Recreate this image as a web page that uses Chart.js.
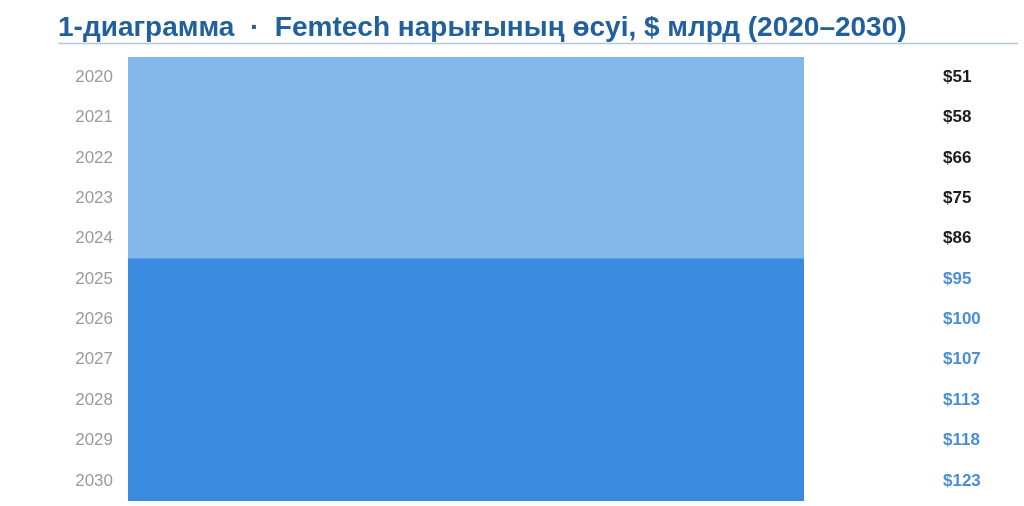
<!DOCTYPE html>
<html>
<head>
<meta charset="utf-8">
<script src="https://cdn.jsdelivr.net/npm/chart.js@4.4.1/dist/chart.umd.min.js"></script>
<style>
html,body{margin:0;padding:0;background:#fff;}
#wrap{width:1024px;height:506px;position:relative;}
</style>
</head>
<body>
<div id="wrap"><canvas id="c" width="1024" height="506"></canvas></div>
<script>
const titleText = "1-диаграмма  ·  Femtech нарығының өсуі, $ млрд (2020–2030)";
const years = ["2020","2021","2022","2023","2024","2025","2026","2027","2028","2029","2030"];
const marketValues = [51,58,66,75,86,95,100,107,113,118,123];
const valueLabels = ["$51","$58","$66","$75","$86","$95","$100","$107","$113","$118","$123"];
const isForecast = [false,false,false,false,false,true,true,true,true,true,true];
const axisMax = 50;

const barColors = isForecast.map(f => f ? "#3a8ae0" : "#85b8ea");
const labelColors = isForecast.map(f => f ? "#4a8fd6" : "#1c1c1c");

const headerPlugin = {
  id: "header",
  afterDraw(chart) {
    const ctx = chart.ctx;
    ctx.save();
    ctx.font = "bold 28px 'Liberation Sans', Arial, sans-serif";
    ctx.fillStyle = "#21609d";
    ctx.textAlign = "left";
    ctx.textBaseline = "alphabetic";
    ctx.fillText(titleText, 58, 36);
    ctx.strokeStyle = "#b3c9d9";
    ctx.lineWidth = 1.5;
    ctx.beginPath();
    ctx.moveTo(58, 43.5);
    ctx.lineTo(1018, 43.5);
    ctx.stroke();
    ctx.restore();
  }
};

const valuePlugin = {
  id: "values",
  afterDatasetsDraw(chart) {
    const ctx = chart.ctx;
    const meta = chart.getDatasetMeta(0);
    ctx.save();
    ctx.font = "bold 17px 'Liberation Sans', Arial, sans-serif";
    ctx.textAlign = "left";
    ctx.textBaseline = "middle";
    meta.data.forEach((bar, i) => {
      ctx.fillStyle = labelColors[i];
      ctx.fillText(valueLabels[i], 943, bar.y);
    });
    ctx.restore();
  }
};

new Chart(document.getElementById("c"), {
  type: "bar",
  data: {
    labels: years,
    datasets: [{
      data: marketValues,
      backgroundColor: barColors,
      borderWidth: 0,
      categoryPercentage: 1,
      barPercentage: 1
    }]
  },
  options: {
    indexAxis: "y",
    responsive: false,
    animation: false,
    devicePixelRatio: 1,
    layout: { padding: { left: 0, right: 220, top: 57, bottom: 5 } },
    plugins: { legend: { display: false }, tooltip: { enabled: false }, title: { display: false } },
    scales: {
      x: { display: false, min: 0, max: axisMax },
      y: {
        grid: { display: false, drawTicks: false },
        border: { display: false },
        ticks: { color: "#9a9a9a", font: { family: "'Liberation Sans', Arial, sans-serif", size: 17 }, padding: 15 },
        afterFit(scale) { scale.width = 128; scale.paddingTop = 0; scale.paddingBottom = 0; }
      }
    }
  },
  plugins: [headerPlugin, valuePlugin]
});
</script>
</body>
</html>
